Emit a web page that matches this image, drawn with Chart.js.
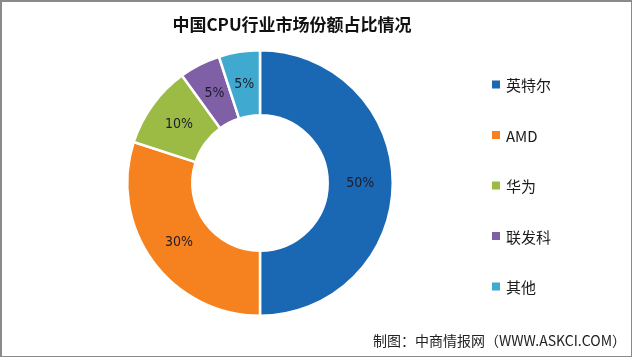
<!DOCTYPE html>
<html>
<head>
<meta charset="utf-8">
<script src="https://cdn.jsdelivr.net/npm/chart.js@4/dist/chart.umd.min.js"></script>
<style>
  html, body { margin:0; padding:0; background:#fff; }
  #wrap { position:relative; width:640px; height:358px; overflow:hidden; }
  #frame { position:absolute; left:0; top:0; width:629px; height:354px; border:1px solid #8a8a8a; border-left-width:2px; border-top-width:2px; box-sizing:content-box; pointer-events:none; }
  canvas { position:absolute; left:0; top:0; }
</style>
</head>
<body>
<div id="wrap">
  <canvas id="c" width="640" height="358"></canvas>
  <div id="frame"></div>
</div>
<script>
const title = "中国CPU行业市场份额占比情况";
const source = "制图：中商情报网（WWW.ASKCI.COM）";
const categories = ["英特尔", "AMD", "华为", "联发科", "其他"];
const shares = [50, 30, 10, 5, 5];
const colors = ["#1a67b3", "#f5821f", "#9bbb45", "#7f5fa6", "#3fa9d0"];

const overlay = {
  id: 'overlay',
  afterDraw(chart) {
    const ctx = chart.ctx;
    const meta = chart.getDatasetMeta(0);
    ctx.save();
    // slice labels
    ctx.fillStyle = '#1c1c2a';
    ctx.font = '14px "Liberation Sans Narrow", "DejaVu Sans Condensed", sans-serif';
    ctx.textAlign = 'center';
    ctx.textBaseline = 'middle';
    meta.data.forEach((arc, i) => {
      const p = arc.getCenterPoint();
      ctx.fillText(shares[i] + '%', p.x, p.y);
    });
    // title
    ctx.fillStyle = '#111';
    ctx.font = 'bold 17px "Noto Sans CJK SC", sans-serif';
    ctx.fillText(title, 292, 25);
    // legend
    ctx.textAlign = 'left';
    ctx.font = '15px "Noto Sans CJK SC", sans-serif';
    categories.forEach((c, i) => {
      const y = 84.5 + i * 50.5;
      ctx.fillStyle = colors[i];
      ctx.fillRect(492, y - 4, 8, 8);
      ctx.fillStyle = '#1a1a1a';
      ctx.fillText(c, 506, y + 1);
    });
    // source
    ctx.font = '14px "Noto Sans CJK SC", sans-serif';
    ctx.textAlign = 'right';
    ctx.fillStyle = '#222';
    ctx.fillText(source, 626, 341);
    ctx.restore();
  }
};

new Chart(document.getElementById('c'), {
  type: 'doughnut',
  data: {
    labels: categories,
    datasets: [{
      data: shares,
      backgroundColor: colors,
      borderColor: '#ffffff',
      borderWidth: 2.5
    }]
  },
  options: {
    responsive: false,
    animation: false,
    cutout: '51%',
    layout: { padding: { left: 126, right: 246, top: 49, bottom: 41 } },
    plugins: { legend: { display: false }, tooltip: { enabled: false } }
  },
  plugins: [overlay]
});
</script>
</body>
</html>
